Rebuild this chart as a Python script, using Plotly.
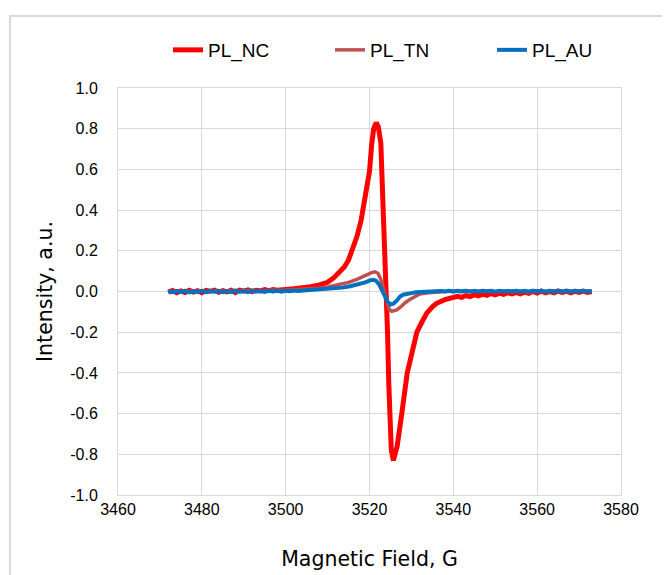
import plotly.graph_objects as go

# ---------------- data ----------------
nc_x = [3472, 3473, 3474, 3475, 3476, 3477, 3478, 3479, 3480, 3481, 3482, 3483, 3484, 3485,
        3486, 3487, 3488, 3489, 3490, 3491, 3492, 3493, 3494, 3495, 3496, 3497, 3498, 3499,
        3500, 3502, 3504, 3506, 3508, 3510, 3511.5, 3513, 3514, 3515, 3516, 3517, 3518, 3519,
        3520, 3520.5, 3521.0, 3521.6, 3522.1, 3522.7, 3523.3, 3523.7, 3524.1, 3524.3, 3524.6,
        3524.9, 3525.2, 3525.7, 3526.2, 3526.6, 3527.7, 3529.0, 3530.5, 3531.3, 3532.5, 3533.7,
        3535, 3536, 3538, 3540, 3541, 3542, 3543, 3544, 3545, 3546, 3547, 3548, 3549, 3550,
        3551, 3552, 3553, 3554, 3555, 3556, 3557, 3558, 3559, 3560, 3561, 3562, 3563, 3564,
        3565, 3566, 3567, 3568, 3569, 3570, 3571, 3572, 3573]
nc_y = [-0.004, 0.005, -0.006, 0.003, -0.005, 0.006, -0.003, 0.004, -0.006, 0.005, 0.001, 0.007,
        -0.004, 0.004, -0.002, 0.006, -0.005, 0.007, 0.002, 0.008, 0.000, 0.006, 0.003, 0.009,
        0.004, 0.010, 0.006, 0.011,
        0.010, 0.014, 0.016, 0.024, 0.032, 0.045, 0.068, 0.095, 0.12, 0.155, 0.21, 0.27, 0.35, 0.46,
        0.59, 0.72, 0.80, 0.83, 0.81, 0.73, 0.40, 0.16, 0.0, -0.20, -0.45,
        -0.65, -0.78, -0.83, -0.80, -0.76, -0.60, -0.40, -0.27, -0.20, -0.15, -0.105,
        -0.075, -0.058, -0.040, -0.031, -0.024, -0.029, -0.020, -0.025, -0.016, -0.021, -0.013, -0.019,
        -0.010, -0.016, -0.008, -0.014, -0.006, -0.012, -0.004, -0.011, -0.003, -0.009, 0.000, -0.008,
        0.002, -0.007, 0.001, -0.006, 0.003, -0.005, 0.002, -0.006, 0.001, -0.004, 0.002, -0.005, 0.000]

tn_x = [3472, 3473, 3474, 3475, 3476, 3477, 3478, 3479, 3480, 3481, 3482, 3483, 3484, 3485,
        3486, 3487, 3488, 3489, 3490, 3491, 3492, 3493, 3494, 3495, 3496, 3497, 3498, 3499,
        3500, 3502, 3504, 3506, 3508, 3510, 3512, 3513.7, 3515, 3517, 3518.5, 3519.4, 3520.5,
        3521.3, 3522.0, 3522.7, 3523.2, 3523.7, 3524.2, 3524.7, 3525.3, 3526.0, 3526.5, 3527.5,
        3528.5, 3529.7, 3531, 3532, 3534, 3536, 3538, 3540, 3542, 3544, 3546, 3548, 3550, 3552,
        3554, 3556, 3558, 3560, 3562, 3564, 3566, 3568, 3570, 3572, 3573]
tn_y = [0.003, -0.002, 0.004, 0.000, 0.005, -0.001, 0.003, 0.001, 0.005, -0.002, 0.004, 0.001,
        0.005, 0.000, 0.004, 0.002, 0.006, 0.001, 0.005, 0.002, 0.006, 0.003, 0.005, 0.002, 0.006,
        0.004, 0.006, 0.005,
        0.006, 0.007, 0.008, 0.012, 0.016, 0.022, 0.030, 0.036, 0.045, 0.060, 0.075, 0.084, 0.093,
        0.097, 0.090, 0.060, 0.020, -0.020, -0.060, -0.088, -0.097, -0.094, -0.090, -0.075,
        -0.055, -0.038, -0.022, -0.012, -0.006, -0.003, -0.001, 0.002, -0.001, 0.003, 0.000, 0.002,
        -0.001, 0.003, 0.000, 0.002, -0.002, 0.003, 0.000, 0.002, -0.001, 0.003, 0.000, 0.002, 0.001]

au_x = [3472, 3473, 3474, 3475, 3476, 3477, 3478, 3479, 3480, 3481, 3482, 3483, 3484, 3485,
        3486, 3487, 3488, 3489, 3490, 3491, 3492, 3493, 3494, 3495, 3496, 3497, 3498, 3499,
        3500, 3501, 3502, 3503, 3505, 3508, 3511.4, 3513.5, 3515.4, 3517.5, 3519, 3520.1, 3520.9,
        3521.6, 3522.3, 3523.0, 3523.6, 3524.3, 3525.0, 3525.7, 3526.5, 3527.3, 3528, 3529, 3530,
        3531, 3532, 3533, 3534, 3535, 3536, 3537, 3538, 3539, 3540, 3541, 3542, 3543, 3544, 3545,
        3546, 3547, 3548, 3549, 3550, 3551, 3552, 3553, 3554, 3555, 3556, 3557, 3558, 3559, 3560,
        3561, 3562, 3563, 3564, 3565, 3566, 3567, 3568, 3569, 3570, 3571, 3572, 3573]
au_y = [0.001, -0.003, 0.002, -0.002, 0.003, -0.004, 0.001, -0.002, 0.003, -0.003, 0.002, -0.001,
        0.003, -0.003, 0.001, -0.002, 0.003, -0.001, 0.002, -0.003, 0.003, 0.000, 0.002, -0.002,
        0.004, 0.000, 0.003, -0.001,
        0.004, 0.001, 0.005, 0.003, 0.006, 0.009, 0.013, 0.019, 0.026, 0.036, 0.045, 0.055, 0.058,
        0.052, 0.035, 0.005, -0.025, -0.050, -0.064, -0.060, -0.045, -0.025, -0.016, -0.010, -0.008,
        -0.004, -0.003, 0.001, -0.002, 0.002, -0.001, 0.003, 0.000, 0.004, -0.001, 0.003, 0.001,
        0.004, -0.001, 0.003, 0.000, 0.004, 0.001, 0.003, -0.001, 0.004, 0.000, 0.003, 0.001, 0.004,
        -0.001, 0.003, 0.000, 0.004, 0.001, 0.003, -0.001, 0.004, 0.000, 0.003, 0.001, 0.004, -0.001,
        0.003, 0.001, 0.004, 0.000, 0.002]

series_names = ["PL_NC", "PL_TN", "PL_AU"]
x_ticks = [3460, 3480, 3500, 3520, 3540, 3560, 3580]
y_ticks = [1.0, 0.8, 0.6, 0.4, 0.2, 0.0, -0.2, -0.4, -0.6, -0.8, -1.0]

# ---------------- figure ----------------
fig = go.Figure()
fig.add_trace(go.Scatter(x=nc_x, y=nc_y, mode="lines", name=series_names[0],
                         line=dict(color="#FF0000", width=5)))
fig.add_trace(go.Scatter(x=tn_x, y=tn_y, mode="lines", name=series_names[1],
                         line=dict(color="#C0504D", width=3.5)))
fig.add_trace(go.Scatter(x=au_x, y=au_y, mode="lines", name=series_names[2],
                         line=dict(color="#0070C0", width=4)))

# the page body has an 8px margin, so figure coords = screen coords - 8
OFF = 8
L, T = 118 - OFF, 88 - OFF
pw, ph = 503, 407
W, H = 670, 575
R = W - L - pw
B = H - T - ph

def px2paper_x(sx):
    return (sx - OFF - L) / pw

def py2paper_y(sy):
    return (T + ph - (sy - OFF)) / ph

fig.add_shape(type="rect", xref="paper", yref="paper",
              x0=px2paper_x(10), x1=px2paper_x(700), y0=py2paper_y(600), y1=py2paper_y(16),
              line=dict(color="#D9D9D9", width=2), fillcolor="rgba(0,0,0,0)", layer="below")

font_main = "Liberation Sans, Arial, sans-serif"
fig.update_layout(
    width=W, height=H,
    margin=dict(l=L, r=R, t=T, b=B, pad=0),
    paper_bgcolor="white", plot_bgcolor="white",
    font=dict(family=font_main, color="#000000", size=16),
    showlegend=True,
    legend=dict(orientation="h", x=px2paper_x(168), xanchor="left",
                y=py2paper_y(50), yanchor="middle",
                font=dict(size=19, family=font_main, color="#000000"),
                entrywidth=117, entrywidthmode="pixels",
                bgcolor="rgba(0,0,0,0)", tracegroupgap=0),
    xaxis=dict(range=[3460, 3580], tickmode="array", tickvals=x_ticks,
               ticktext=[str(v) for v in x_ticks],
               showgrid=True, gridcolor="#D9D9D9", gridwidth=1,
               showline=True, linecolor="#D9D9D9", linewidth=1, mirror=True,
               zeroline=False, ticks="", ticklabelstandoff=0,
               tickfont=dict(size=16),
               title=dict(text="Magnetic Field, G", standoff=34,
                          font=dict(size=20.5, family="DejaVu Sans, sans-serif"))),
    yaxis=dict(range=[-1.0, 1.0], tickmode="array", tickvals=y_ticks,
               ticktext=[f"{v:.1f}" for v in y_ticks],
               showgrid=True, gridcolor="#D9D9D9", gridwidth=1,
               showline=True, linecolor="#D9D9D9", linewidth=1, mirror=True,
               zeroline=False, ticks="", ticklabelstandoff=16,
               tickfont=dict(size=16),
               title=dict(text="Intensity, a.u.", standoff=12,
                          font=dict(size=20.5, family="DejaVu Sans, sans-serif"))),
)

fig.write_html("out.html")
